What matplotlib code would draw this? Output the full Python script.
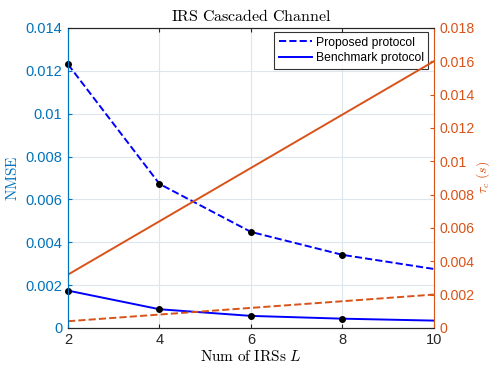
import numpy as np
import matplotlib
matplotlib.use('Agg')
import matplotlib.pyplot as plt

plt.rcParams['mathtext.fontset'] = 'cm'
plt.rcParams['font.family'] = ['Liberation Sans', 'DejaVu Sans']

# data
L = [2, 4, 6, 8, 10]
nmse_proposed = [0.0123, 0.00672, 0.00448, 0.00341, 0.00275]
nmse_benchmark = [0.00174, 0.00087, 0.00056, 0.00043, 0.00034]
L_marker = [2, 4, 6, 8]
mk_proposed = [0.0123, 0.00672, 0.00448, 0.00341]
mk_benchmark = [0.00174, 0.00087, 0.00056, 0.00043]
tau_proposed = [0.0004, 0.0008, 0.0012, 0.0016, 0.0020]
tau_benchmark = [0.0032, 0.0064, 0.0096, 0.0128, 0.0160]

blue_ax = '#0072BD'
orange = '#D95319'

fig = plt.figure(figsize=(4.93, 3.68), dpi=100)
ax = fig.add_axes([0.138, 0.109, 0.742, 0.815])
ax2 = ax.twinx()

ax.plot(L, nmse_proposed, '--', color='blue', lw=1.4, label='Proposed protocol')
ax.plot(L, nmse_benchmark, '-', color='blue', lw=1.4, label='Benchmark protocol')
ax.plot(L_marker, mk_proposed, 'o', color='black', ms=4, clip_on=False, zorder=5)
ax.plot(L_marker, mk_benchmark, 'o', color='black', ms=4, clip_on=False, zorder=5)

ax2.plot(L, tau_proposed, '--', color=orange, lw=1.4)
ax2.plot(L, tau_benchmark, '-', color=orange, lw=1.4)

ax.set_xlim(2, 10)
ax.set_ylim(0, 0.014)
ax2.set_ylim(0, 0.018)
ax.set_xticks([2, 4, 6, 8, 10])
yt = np.arange(0, 0.0141, 0.002)
ax.set_yticks(yt)
ax.set_yticklabels(['0', '0.002', '0.004', '0.006', '0.008', '0.01', '0.012', '0.014'])
yt2 = np.arange(0, 0.0181, 0.002)
ax2.set_yticks(yt2)
ax2.set_yticklabels(['0', '0.002', '0.004', '0.006', '0.008', '0.01', '0.012', '0.014', '0.016', '0.018'])

ax.grid(True, color='#dde6ee', lw=0.8)
ax.set_axisbelow(True)

ax.tick_params(axis='x', direction='in', top=True, labelsize=10.5, colors='#262626', length=3, pad=4)
ax.tick_params(axis='y', direction='in', labelsize=10.5, colors=blue_ax, length=3, pad=4)
ax2.tick_params(axis='y', direction='in', labelsize=10.2, colors=orange, length=3, pad=4)

for s in ['top', 'bottom']:
    ax.spines[s].set_color('#262626')
    ax2.spines[s].set_color('#262626')
ax.spines['left'].set_color(blue_ax)
ax2.spines['left'].set_color(blue_ax)
ax2.spines['right'].set_color(orange)
ax.spines['right'].set_visible(False)

ax.set_title(r'$\mathrm{IRS\ Cascaded\ Channel}$', fontsize=11.5, pad=5)
ax.set_xlabel(r'$\mathrm{Num\ of\ IRSs}\ L$', fontsize=11, labelpad=1)
ax.set_ylabel(r'$\mathrm{NMSE}$', fontsize=11, color=blue_ax, labelpad=4)
ax2.set_ylabel(r'$\tau_c\ (s)$', fontsize=10, color=orange, labelpad=0)

leg = ax.legend(loc='upper right', fontsize=8.7, frameon=True, fancybox=False,
                edgecolor='black', bbox_to_anchor=(0.985, 0.985), borderaxespad=0,
                handlelength=2.8, borderpad=0.35, labelspacing=0.3, handletextpad=0.3)
leg.get_frame().set_linewidth(0.8)

fig.savefig('out.png', dpi=100)
